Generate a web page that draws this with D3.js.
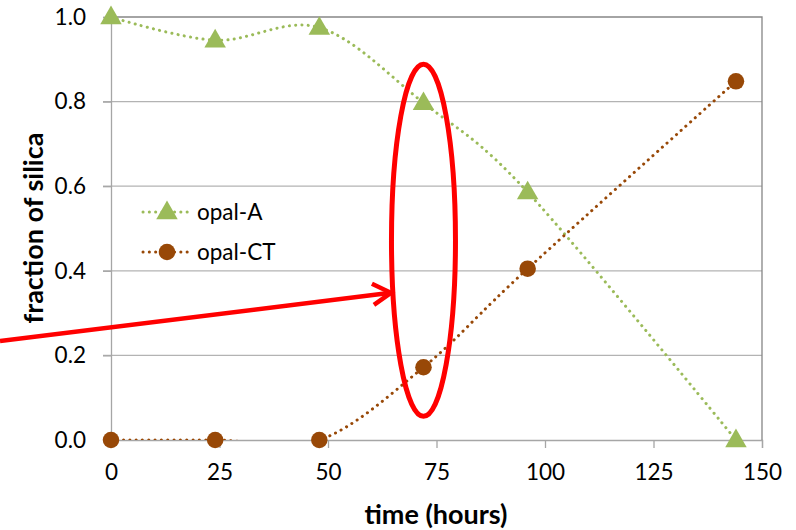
<!DOCTYPE html>
<html>
<head>
  <meta charset="UTF-8">
  <title>fraction of silica</title>
  <script src="https://d3js.org/d3.v7.min.js"></script>
  <style>
    body { margin: 0; background: #fff; }
    text { font-family: Lato, "Open Sans", sans-serif; fill: #000; }
  </style>
</head>
<body>
  <script>
    // values
    var hours = [0, 24, 48, 72, 96, 144];
    var opalA = [1.0, 0.945, 0.975, 0.797, 0.586, 0.0];
    var opalCT = [0.0, 0.0, 0.0, 0.172, 0.405, 0.848];
    var xTicks = [0, 25, 50, 75, 100, 125, 150];
    var yTicks = [0, 0.2, 0.4, 0.6, 0.8, 1.0];

    var margin = { top: 17, right: 34, bottom: 90, left: 111 };
    var width = 796 - margin.left - margin.right;
    var height = 530 - margin.top - margin.bottom;

    var svg = d3.select("body")
      .append("svg")
      .attr("width", 796)
      .attr("height", 530);

    var g = svg.append("g")
      .attr("transform", "translate(" + margin.left + "," + margin.top + ")");

    var x = d3.scaleLinear().domain([0, 150]).range([0, width]);
    var y = d3.scaleLinear().domain([0, 1]).range([height, 0]);

    // grid
    g.selectAll(".grid")
      .data(yTicks.slice(1, 5))
      .enter()
      .append("line")
      .attr("x1", -8).attr("x2", width)
      .attr("y1", function (d) { return y(d); })
      .attr("y2", function (d) { return y(d); })
      .attr("stroke", "#b3b3b3").attr("stroke-width", 1.3);

    // axes
    var yAxis = d3.axisLeft(y).tickValues(yTicks).tickSize(8).tickPadding(17)
      .tickFormat(d3.format(".1f"));
    var xAxis = d3.axisBottom(x).tickValues(xTicks).tickSize(8).tickPadding(16)
      .tickFormat(d3.format("d"));

    var ya = g.append("g").call(yAxis);
    var xa = g.append("g").attr("transform", "translate(0," + height + ")").call(xAxis);
    [ya, xa].forEach(function (a) {
      a.select(".domain").attr("stroke", "#a6a6a6").attr("stroke-width", 1.3);
      a.selectAll(".tick line").attr("stroke", "#a6a6a6").attr("stroke-width", 1.3);
      a.selectAll(".tick text").style("font-size", "22.5px").attr("fill", "#000");
    });
    xa.selectAll(".tick text").attr("dy", "0.72em");

    // top and right border
    g.append("path")
      .attr("d", "M0," + y(1) + "H" + width + "V" + height)
      .attr("fill", "none").attr("stroke", "#868686").attr("stroke-width", 1.3);

    // axis titles
    svg.append("text")
      .attr("x", 436).attr("y", 524)
      .attr("text-anchor", "middle")
      .style("font-size", "27px").style("font-weight", "bold")
      .text("time (hours)");
    svg.append("text")
      .attr("transform", "translate(43,228) rotate(-90)")
      .attr("text-anchor", "middle")
      .style("font-size", "27px").style("font-weight", "bold")
      .text("fraction of silica");

    // series
    svg.append("defs").append("clipPath").attr("id", "plot")
      .append("rect").attr("x", 0).attr("y", 0).attr("width", width).attr("height", height);

    var series = [
      { name: "opal-A", values: opalA, color: "#9bbb59", marker: "triangle" },
      { name: "opal-CT", values: opalCT, color: "#984807", marker: "circle" }
    ];

    var line = d3.line()
      .x(function (d) { return x(d[0]); })
      .y(function (d) { return y(d[1]); })
      .curve(d3.curveCardinal.tension(0));

    series.forEach(function (s) {
      var pts = hours.map(function (h, i) { return [h, s.values[i]]; });
      g.append("path")
        .datum(pts)
        .attr("clip-path", "url(#plot)")
        .attr("d", line)
        .attr("fill", "none")
        .attr("stroke", s.color)
        .attr("stroke-width", 3)
        .attr("stroke-linecap", "round")
        .attr("stroke-dasharray", "0.1 6.2");
    });

    var tri = d3.symbol().type(d3.symbolTriangle).size(200);
    var dot = d3.symbol().type(d3.symbolCircle).size(215);

    series.forEach(function (s) {
      g.selectAll(".m-" + s.marker)
        .data(hours.map(function (h, i) { return [h, s.values[i]]; }))
        .enter()
        .append("path")
        .attr("transform", function (d) { return "translate(" + x(d[0]) + "," + (y(d[1]) + (s.marker === "triangle" ? 1 : 0)) + ")"; })
        .attr("d", s.marker === "triangle" ? tri : dot)
        .attr("fill", s.color);
    });

    // legend
    var legend = svg.append("g").attr("transform", "translate(140,212)");
    series.forEach(function (s, i) {
      var row = legend.append("g").attr("transform", "translate(0," + (i * 40) + ")");
      row.append("line")
        .attr("x1", 3).attr("x2", 49)
        .attr("stroke", s.color).attr("stroke-width", 3)
        .attr("stroke-linecap", "round").attr("stroke-dasharray", "0.1 6.2");
      row.append("path")
        .attr("transform", "translate(27," + (s.marker === "triangle" ? 1 : 0) + ")")
        .attr("d", s.marker === "triangle" ? tri : dot)
        .attr("fill", s.color);
      row.append("text")
        .attr("x", 57).attr("dy", "0.35em")
        .style("font-size", "22.5px")
        .text(s.name);
    });

    // red annotation: ellipse around t = 72 h, arrow from the left
    var red = "#ff0000";
    g.append("ellipse")
      .attr("cx", x(72)).attr("cy", y(0.472))
      .attr("rx", 32).attr("ry", 176)
      .attr("fill", "none").attr("stroke", red).attr("stroke-width", 5);

    var tip = [margin.left + x(64.5), margin.top + y(0.348)];
    svg.append("line")
      .attr("x1", 0).attr("y1", 341)
      .attr("x2", tip[0]).attr("y2", tip[1])
      .attr("stroke", red).attr("stroke-width", 4.5);
    svg.append("path")
      .attr("d", "M" + (tip[0] - 19) + "," + (tip[1] - 9) + "L" + tip[0] + "," + tip[1] + "L" + (tip[0] - 17) + "," + (tip[1] + 12))
      .attr("fill", "none").attr("stroke", red).attr("stroke-width", 4.5)
      .attr("stroke-linejoin", "miter");
  </script>
</body>
</html>
